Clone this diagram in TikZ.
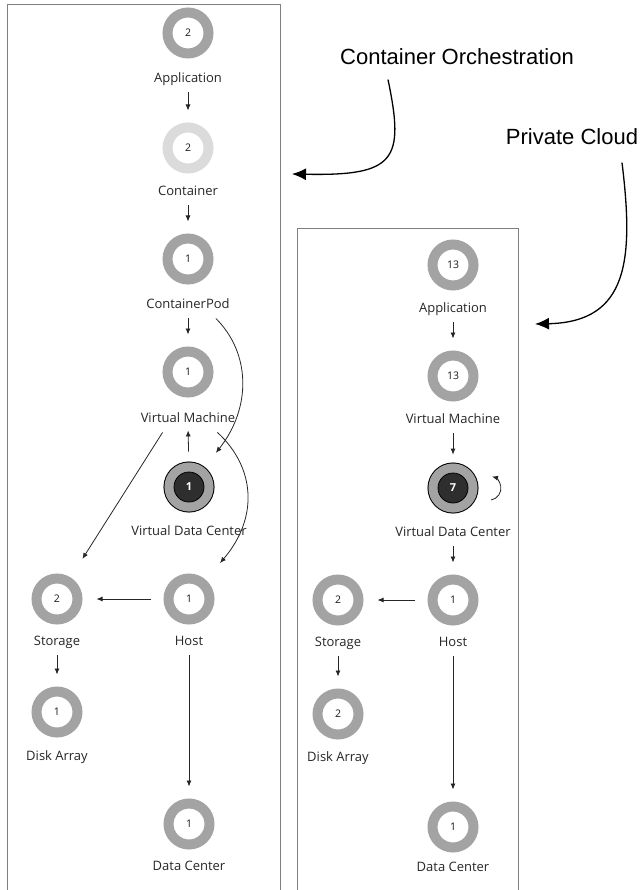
\documentclass[tikz,border=0pt]{standalone}
\usepackage{fontspec}
\setmainfont{Open Sans}
\newfontfamily\annofont{Liberation Sans}
\usepackage{xcolor}
\usepackage{tikz}
\usetikzlibrary{arrows.meta}

\begin{document}
\begin{tikzpicture}[x=1pt,y=1pt,
  ring/.style={circle,draw=black!36,line width=10pt,minimum size=41pt,inner sep=0pt,text=black!90,font=\fontsize{10.5}{10.5}\selectfont},
  ringlight/.style={ring,draw=black!14},
  vdcring/.style={circle,fill=black!82,draw=black,line width=0.8pt,minimum size=30pt,inner sep=0pt,text=white,font=\bfseries\fontsize{11}{11}\selectfont,
    preaction={draw=black,line width=21pt},preaction={draw=black!36,line width=19pt}},
  lbl/.style={text=black!85,font=\fontsize{13}{15}\selectfont,text height=9.5pt,text depth=3pt,inner sep=1pt},
  link/.style={-{Latex[length=6pt,width=5pt]},black!85,line width=0.8pt,shorten <=6pt,shorten >=12pt},
  anno/.style={font=\annofont\fontsize{22}{26}\selectfont,text=black},
  bigarrow/.style={-{Latex[length=14pt,width=12pt]},line width=1.3pt},
  boxline/.style={black!50,line width=0.8pt}]
\useasboundingbox (0,0) rectangle (643,-890);
\draw[boxline] (7,-890) -- (7,-4) -- (280,-4) -- (280,-890);
\draw[boxline] (297,-890) -- (297,-228) -- (518,-228) -- (518,-890);

\node[ring] (app1) at (188,-33) {2};
\node[lbl] (app1l) at (188,-79) {Application};
\node[ringlight] (ctr1) at (188,-148) {2};
\node[lbl] (ctr1l) at (188,-192) {Container};
\node[ring] (pod1) at (188,-259) {1};
\node[lbl] (pod1l) at (188,-305) {ContainerPod};
\node[ring] (vm1) at (188,-372) {1};
\node[lbl] (vm1l) at (188,-419) {Virtual Machine};
\node[vdcring] (vdc1) at (189,-487) {1};
\node[lbl] (vdc1l) at (189,-532) {Virtual Data Center};
\node[ring] (host1) at (189,-599) {1};
\node[lbl] (host1l) at (189,-642) {Host};
\node[ring] (stor1) at (57,-599) {2};
\node[lbl] (stor1l) at (57,-642) {Storage};
\node[ring] (disk1) at (57,-712) {1};
\node[lbl] (disk1l) at (57,-757) {Disk Array};
\node[ring] (dc1) at (189,-824) {1};
\node[lbl] (dc1l) at (189,-867) {Data Center};

\node[ring] (app2) at (453,-265) {13};
\node[lbl] (app2l) at (453,-309) {Application};
\node[ring] (vm2) at (453,-376) {13};
\node[lbl] (vm2l) at (453,-420) {Virtual Machine};
\node[vdcring] (vdc2) at (453,-488) {7};
\node[lbl] (vdc2l) at (453,-533) {Virtual Data Center};
\node[ring] (host2) at (453,-600) {1};
\node[lbl] (host2l) at (453,-643) {Host};
\node[ring] (stor2) at (338,-600) {2};
\node[lbl] (stor2l) at (338,-643) {Storage};
\node[ring] (disk2) at (338,-714) {2};
\node[lbl] (disk2l) at (338,-758) {Disk Array};
\node[ring] (dc2) at (453,-827) {1};
\node[lbl] (dc2l) at (453,-868) {Data Center};

\draw[link] (app1l.south) -- (ctr1.north);
\draw[link] (ctr1l.south) -- (pod1.north);
\draw[link] (pod1l.south) -- (vm1.north);
\draw[link,shorten <=20pt,shorten >=4pt] (vdc1.north) -- (vm1l.south);
\draw[link,shorten <=0pt,shorten >=28pt] ([xshift=-15pt,yshift=-6pt]pod1l.south east) .. controls +(35,-35) and +(53,67) .. (vdc1.52);
\draw[link,shorten <=0pt,shorten >=22pt] ([xshift=-19pt,yshift=-6pt]vm1l.south east) .. controls +(38,-35) and +(53,62) .. (host1.49);
\draw[link,shorten <=0pt,shorten >=22pt] ([xshift=23pt,yshift=-6pt]vm1l.south west) -- (stor1);
\draw[link,shorten <=13pt,shorten >=14pt] (host1.west) -- (stor1.east);
\draw[link] (stor1l.south) -- (disk1.north);
\draw[link] (host1l.south) -- (dc1.north);

\draw[link] (app2l.south) -- (vm2.north);
\draw[link,shorten >=18pt] (vm2l.south) -- (vdc2.north);
\draw[link,shorten <=0pt,shorten >=0pt] ([xshift=38pt,yshift=-12pt]vdc2.center) arc[start angle=-80,end angle=75,radius=12pt];
\draw[link] (vdc2l.south) -- (host2.north);
\draw[link,shorten <=13pt,shorten >=14pt] (host2.west) -- (stor2.east);
\draw[link] (stor2l.south) -- (disk2.north);
\draw[link] (host2l.south) -- (dc2.north);

\node[anno] (orch) at (457,-57) {Container Orchestration};
\node[anno] (priv) at (572,-137) {Private Cloud};
\coordinate (orchtip) at (292,-174);
\coordinate (privtip) at (535,-324);
\draw[bigarrow] ([xshift=-69pt,yshift=-11pt]orch.south) .. controls +(17,-81) and +(103,-2) .. (orchtip);
\draw[bigarrow] ([xshift=50pt,yshift=-14pt]priv.south) .. controls +(12,-98) and +(93,2) .. (privtip);
\end{tikzpicture}
\end{document}
